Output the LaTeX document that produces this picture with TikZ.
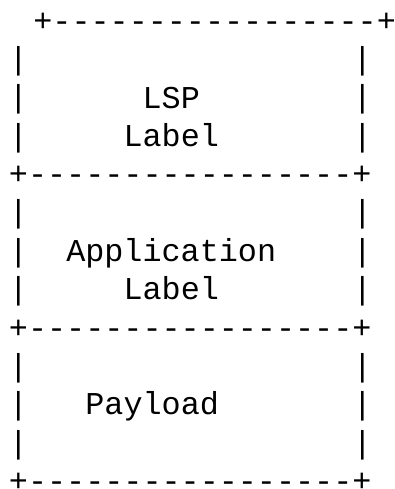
\documentclass[tikz,border=0pt]{standalone}
\usepackage{fontspec}
\setmonofont{Liberation Mono}
\begin{document}
\begin{tikzpicture}[x=1pt,y=1pt,
  ascii/.style={font=\ttfamily\fontsize{31.8}{38.4}\selectfont, inner sep=0pt, anchor=base west}]
\useasboundingbox (0,0) rectangle (395,489);

% frame rows
\node [ascii] (top) at (33.15, 457) {+-----------------+};
\node [ascii] (sepA) at (8.75, 304.4) {+-----------------+};
\node [ascii] (sepB) at (8.75, 150.8) {+-----------------+};
\node [ascii, text depth=0pt] (bottom) at (8.75, -2.8) {+-----------------+};
\foreach \y in {419.6, 381.2, 342.8, 266, 227.6, 189.2, 112.4, 74, 35.6} {
  \node [ascii] at (8.75, \y) {|};
  \node [ascii] at (352.55, \y) {|};
}

% labels
\node [ascii] (lsp) at (142.45, 380) {LSP};
\node [ascii] (lsplabel) at (123.35, 342) {Label};
\node [ascii] (app) at (66.05, 227.6) {Application};
\node [ascii] (applabel) at (123.35, 189.2) {Label};
\node [ascii] (payload) at (85.15, 74) {Payload};
\end{tikzpicture}
\end{document}
